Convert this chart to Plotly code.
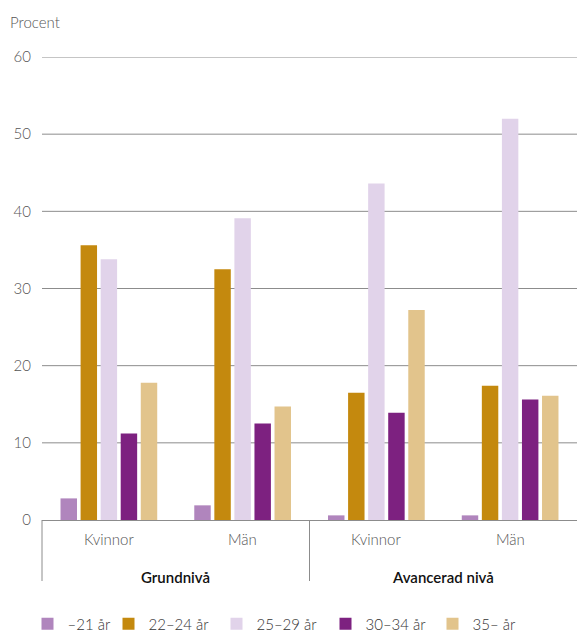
import plotly.graph_objects as go

levels = ["Grundnivå", "Grundnivå", "Avancerad nivå", "Avancerad nivå"]
genders = ["Kvinnor", "Män", "Kvinnor", "Män"]
group_names = ["Grundnivå", "Avancerad nivå"]

series_names = ["–21 år", "22–24 år", "25–29 år", "30–34 år", "35– år"]
v_21 = [2.8, 1.9, 0.6, 0.6]
v_22_24 = [35.6, 32.5, 16.5, 17.4]
v_25_29 = [33.8, 39.1, 43.6, 52.0]
v_30_34 = [11.2, 12.5, 13.9, 15.6]
v_35 = [17.8, 14.7, 27.2, 16.1]
series_values = [v_21, v_22_24, v_25_29, v_30_34, v_35]
colors = ["#b085bd", "#c4890e", "#e1d3ea", "#7d2180", "#e2c48c"]

y_ticks = [0, 10, 20, 30, 40, 50, 60]

FONT = "Lato"
TXT = "#333333"
LIGHT = "#555555"
GRID = "#8c8c8c"
PLOT_W = 535
PLOT_H = 463
LEG_X_PX = [-14.5, 66.5, 174.5, 283.5, 390.5]
x = [levels, genders]

fig = go.Figure()
legend_layouts = {}
for k, (name, vals, c) in enumerate(zip(series_names, series_values, colors)):
    lname = "legend" if k == 0 else f"legend{k + 1}"
    fig.add_trace(go.Bar(x=x, y=vals, name=name, legend=lname,
                         marker=dict(color=c, line=dict(width=0))))
    legend_layouts[lname] = dict(orientation="h", x=LEG_X_PX[k] / PLOT_W, xanchor="left",
                                 y=-104 / PLOT_H, yanchor="middle",
                                 font=dict(size=15, color=TXT, weight=300), itemwidth=30,
                                 bgcolor="rgba(0,0,0,0)")

n = len(genders)
annotations = [dict(text="Procent", xref="paper", yref="paper", x=-0.063, y=1.0,
                    xanchor="left", yanchor="middle", yshift=35, showarrow=False,
                    font=dict(size=15, color=LIGHT, weight=300))]
for i, g in enumerate(genders):
    annotations.append(dict(text=g, xref="paper", yref="paper", x=(i + 0.5) / n, y=0,
                            yshift=-19, xanchor="center", yanchor="middle", showarrow=False,
                            font=dict(size=15, color=LIGHT, weight=300)))
ng = len(group_names)
for j, gname in enumerate(group_names):
    annotations.append(dict(text=gname, xref="paper", yref="paper", x=(j + 0.5) / ng, y=0,
                            yshift=-57, xanchor="center", yanchor="middle", showarrow=False,
                            font=dict(size=15, color="#111111", weight=600)))

shapes = []
for j in range(ng):
    shapes.append(dict(type="line", xref="paper", yref="paper", x0=j / ng, x1=j / ng,
                       y0=0, y1=-61 / PLOT_H, line=dict(color=GRID, width=1)))
for t in y_ticks[1:]:
    shapes.append(dict(type="line", xref="paper", yref="y", x0=0, x1=1, y0=t, y1=t,
                       line=dict(color=GRID, width=1), layer="below"))

fig.update_layout(
    width=577, height=634,
    margin=dict(l=42, r=0, t=57, b=114, autoexpand=False),
    paper_bgcolor="white", plot_bgcolor="white",
    barmode="group", bargap=0.25, bargroupgap=0.18,
    font=dict(family=FONT, size=15, color=TXT),
    showlegend=True,
    annotations=annotations,
    shapes=shapes,
    **legend_layouts,
)
fig.update_yaxes(range=[0, 60], tickvals=y_ticks, showgrid=False, zeroline=False,
                 ticks="", ticklabelstandoff=10, automargin=False,
                 tickfont=dict(size=15, color=LIGHT, weight=300), showline=False)
fig.update_xaxes(showline=True, linecolor=GRID, linewidth=1, showdividers=False,
                 showticklabels=False, ticks="", automargin=False)

fig.write_html("out.html", config={"displayModeBar": False},
               post_script="document.body.style.margin='0px';")
